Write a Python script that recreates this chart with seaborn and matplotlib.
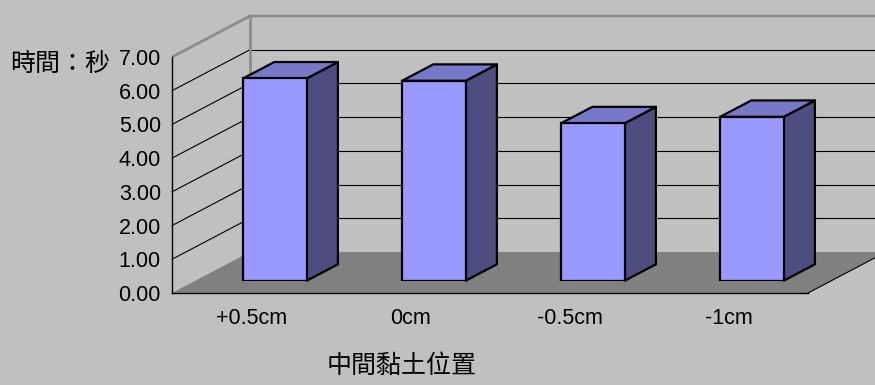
import matplotlib
matplotlib.use("Agg")
import matplotlib.pyplot as plt
import seaborn as sns
from matplotlib.patches import Polygon
from matplotlib.ticker import FormatStrFormatter, FixedLocator

categories = ["+0.5cm", "0cm", "-0.5cm", "-1cm"]
values = [6.00, 5.93, 4.67, 4.86]
y_ticks = [0, 1, 2, 3, 4, 5, 6, 7]
y_label = "時間：秒"
x_label = "中間黏土位置"

sns.set_style("white")
plt.rcParams["font.family"] = ["Liberation Sans", "DejaVu Sans"]

BG = "#C0C0C0"
FRONT = "#9999FF"
TOP = "#7878C8"
SIDE = "#4D4D80"
FLOOR = "#808080"
FRAME = "#8C8C8C"

W, H = 875, 385
fig = plt.figure(figsize=(W / 100, H / 100), dpi=100, facecolor=BG)

# front plane in pixels
L, R, T, B = 172, 808, 57, 293
DXP, DYP = 78, 41  # full depth offset in pixels
ax = fig.add_axes([L / W, (H - B) / H, (R - L) / W, (B - T) / H])
ax.set_facecolor("none")
ax.set_xlim(-0.5, 3.5)
ax.set_ylim(0, 7)
DX = DXP / ((R - L) / 4)
DY = DYP / ((B - T) / 7)

x0, x1 = -0.5, 3.5
# floor
ax.add_patch(Polygon([(x0, 0), (x0 + DX, DY), (x1 + DX, DY), (x1, 0)],
                     closed=True, facecolor=FLOOR, edgecolor="none",
                     clip_on=False, zorder=0.1))
# grid lines on side and back walls
for v in y_ticks[1:-1]:
    ax.plot([x0, x0 + DX], [v, v + DY], color="black", lw=0.8, clip_on=False, zorder=0.2)
    ax.plot([x0 + DX, x1 + DX + 1], [v + DY, v + DY], color="black", lw=0.8,
            clip_on=False, zorder=0.2)
# frame of the walls
ax.plot([x0, x0 + DX, x1 + DX + 1], [7, 7 + DY, 7 + DY], color=FRAME, lw=2,
        clip_on=False, zorder=0.3, solid_capstyle="butt")
ax.plot([x0 + DX, x0 + DX], [DY, 7 + DY], color=FRAME, lw=2, clip_on=False, zorder=0.3)
ax.plot([x1, x1 + DX], [0, DY], color="black", lw=0.8, clip_on=False, zorder=0.3)

for s in ["top", "right"]:
    ax.spines[s].set_visible(False)
for s in ["left", "bottom"]:
    ax.spines[s].set_color("black")
    ax.spines[s].set_linewidth(1.0)

ax.yaxis.set_major_locator(FixedLocator(y_ticks))
ax.yaxis.set_major_formatter(FormatStrFormatter("%.2f"))
ax.set_xticks(range(len(categories)))
ax.set_xticklabels(categories)
ax.set_xticks([i + 0.5 for i in range(len(categories))], minor=True)
ax.tick_params(axis="y", direction="in", length=5, width=1, color="black",
               labelsize=15.5, pad=8, labelcolor="black")
ax.tick_params(axis="x", which="major", length=0, labelsize=15.5, pad=11,
               labelcolor="black")
ax.tick_params(axis="x", which="minor", direction="in", length=5, width=1,
               color="black")

# bar axes shifted to the depth of the bar front faces
f0, bd = 0.3, 0.4
bx = fig.add_axes([(L + f0 * DXP) / W, (H - B + f0 * DYP) / H, (R - L) / W, (B - T) / H])
bx.set_facecolor("none")
sns.barplot(x=categories, y=values, ax=bx, color=FRONT, saturation=1, width=0.4,
            edgecolor="black", linewidth=1.6, zorder=3)
bx.set_xlim(-0.5, 3.5)
bx.set_ylim(0, 7)
bx.set_axis_off()
ox, oy = bd * DX, bd * DY
for p in bx.patches:
    px, pw, ph = p.get_x(), p.get_width(), p.get_height()
    side = [(px + pw, 0), (px + pw + ox, oy), (px + pw + ox, ph + oy), (px + pw, ph)]
    top = [(px, ph), (px + ox, ph + oy), (px + pw + ox, ph + oy), (px + pw, ph)]
    bx.add_patch(Polygon(side, closed=True, facecolor=SIDE, edgecolor="black",
                         lw=1.6, clip_on=False, zorder=2, joinstyle="round"))
    bx.add_patch(Polygon(top, closed=True, facecolor=TOP, edgecolor="black",
                         lw=1.6, clip_on=False, zorder=2, joinstyle="round"))

cjk = ["Noto Sans CJK TC", "DejaVu Sans"]
fig.text(10 / W, 1 - 64 / H, y_label, family=cjk, fontsize=18, ha="left",
         va="center", color="black", weight="medium")
fig.text(402 / W, 1 - 366 / H, x_label, family=cjk, fontsize=18, ha="center",
         va="center", color="black", weight="medium")

fig.savefig("out.png", dpi=100, facecolor=BG)
